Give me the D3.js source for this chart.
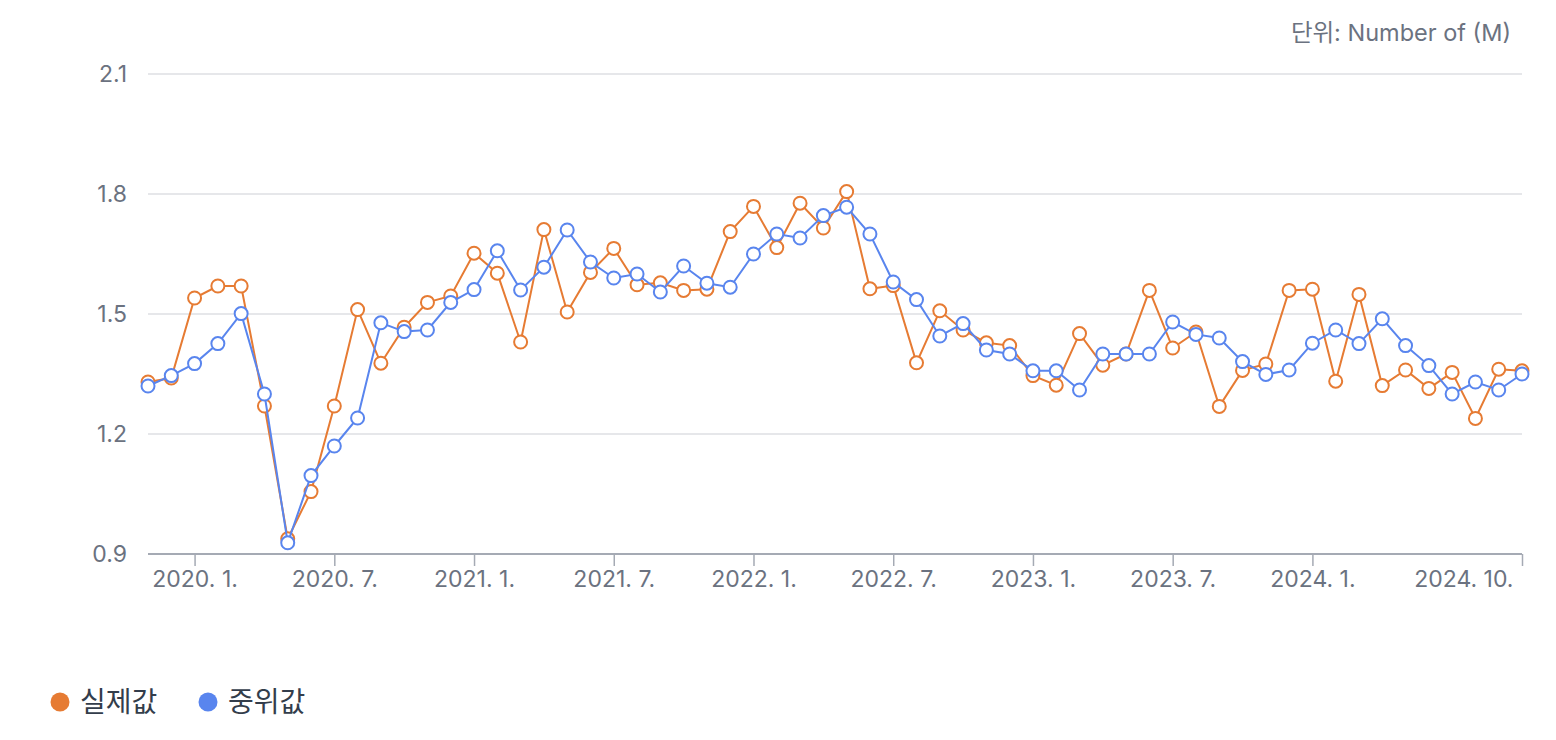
<!DOCTYPE html>
<html>
<head>
<meta charset="utf-8">
<script src="https://cdn.jsdelivr.net/npm/d3@7"></script>
<style>
  html, body { margin: 0; padding: 0; background: #ffffff; }
  svg { display: block; font-family: Inter, "Noto Sans CJK KR", "Noto Sans", sans-serif; }
</style>
</head>
<body>
<svg id="chart" width="1556" height="740"></svg>
<script>
const categories = [
  "2019. 11.","2019. 12.",
  "2020. 1.","2020. 2.","2020. 3.","2020. 4.","2020. 5.","2020. 6.","2020. 7.","2020. 8.","2020. 9.","2020. 10.","2020. 11.","2020. 12.",
  "2021. 1.","2021. 2.","2021. 3.","2021. 4.","2021. 5.","2021. 6.","2021. 7.","2021. 8.","2021. 9.","2021. 10.","2021. 11.","2021. 12.",
  "2022. 1.","2022. 2.","2022. 3.","2022. 4.","2022. 5.","2022. 6.","2022. 7.","2022. 8.","2022. 9.","2022. 10.","2022. 11.","2022. 12.",
  "2023. 1.","2023. 2.","2023. 3.","2023. 4.","2023. 5.","2023. 6.","2023. 7.","2023. 8.","2023. 9.","2023. 10.","2023. 11.","2023. 12.",
  "2024. 1.","2024. 2.","2024. 3.","2024. 4.","2024. 5.","2024. 6.","2024. 7.","2024. 8.","2024. 9.","2024. 10."
];

const actual = [
  1.33, 1.34,
  1.54, 1.57, 1.57, 1.27, 0.938, 1.056, 1.27, 1.511, 1.377, 1.467, 1.529, 1.545,
  1.652, 1.602, 1.43, 1.711, 1.505, 1.604, 1.664, 1.573, 1.578, 1.559, 1.562, 1.706,
  1.769, 1.666, 1.777, 1.715, 1.806, 1.563, 1.571, 1.378, 1.508, 1.46, 1.428, 1.421,
  1.346, 1.322, 1.451, 1.372, 1.40, 1.559, 1.415, 1.455, 1.269, 1.359, 1.375, 1.559,
  1.562, 1.332, 1.549, 1.321, 1.36, 1.314, 1.354, 1.239, 1.362, 1.358
];

const median = [
  1.32, 1.346,
  1.376, 1.426, 1.501, 1.30, 0.928, 1.096, 1.17, 1.24, 1.478, 1.456, 1.46, 1.529,
  1.561, 1.658, 1.56, 1.617, 1.71, 1.63, 1.59, 1.60, 1.555, 1.62, 1.577, 1.567,
  1.65, 1.70, 1.69, 1.746, 1.767, 1.70, 1.58, 1.536, 1.445, 1.476, 1.41, 1.40,
  1.358, 1.358, 1.31, 1.40, 1.40, 1.40, 1.48, 1.449, 1.44, 1.381, 1.349, 1.36,
  1.427, 1.46, 1.426, 1.488, 1.421, 1.371, 1.30, 1.33, 1.31, 1.35
];

const xTickLabels = ["2020. 1.","2020. 7.","2021. 1.","2021. 7.","2022. 1.","2022. 7.","2023. 1.","2023. 7.","2024. 1.","2024. 10."];
const yTicks = [0.9, 1.2, 1.5, 1.8, 2.1];
const seriesNames = ["실제값", "중위값"];
const unitLabel = "단위: Number of (M)";

const colors = ["#e67b33", "#5985ee"];

const svg = d3.select("#chart");
const plotLeft = 148, plotRight = 1522, plotTop = 74, plotBottom = 554;

const x = d3.scalePoint().domain(categories).range([plotLeft, plotRight]);
const y = d3.scaleLinear().domain([0.9, 2.1]).range([plotBottom, plotTop]);

// gridlines
svg.append("g")
  .selectAll("line")
  .data(yTicks.filter(t => t !== 0.9))
  .join("line")
  .attr("x1", plotLeft).attr("x2", plotRight)
  .attr("y1", d => y(d)).attr("y2", d => y(d))
  .attr("stroke", "#e6e7ea").attr("stroke-width", 2);

// y axis labels
const yAxis = d3.axisLeft(y).tickValues(yTicks).tickSize(0).tickPadding(0).tickFormat(d3.format(".1f"));
const gy = svg.append("g").attr("transform", `translate(${127},0)`).call(yAxis);
gy.select(".domain").remove();
gy.selectAll("text").attr("fill", "#6b7280").attr("font-size", 23).attr("font-family", "Inter, 'Noto Sans CJK KR', sans-serif");

// x axis
const xAxis = d3.axisBottom(x).tickValues(xTickLabels).tickSize(12).tickPadding(5);
const gx = svg.append("g").attr("transform", `translate(0,${plotBottom})`).call(xAxis);
gx.select(".domain").attr("stroke", "#a5aab4").attr("stroke-width", 2).attr("d", `M${plotLeft},0H${plotRight}`);
gx.selectAll(".tick line").attr("stroke", "#a5aab4").attr("stroke-width", 1.5);
gx.selectAll("text").attr("fill", "#6b7280").attr("font-size", 23).attr("font-family", "Inter, 'Noto Sans CJK KR', sans-serif");
gx.selectAll(".tick text").filter(d => d === xTickLabels[xTickLabels.length - 1])
  .attr("text-anchor", "end").attr("dx", -9);

// series
const seriesData = [actual, median];
seriesData.forEach((vals, si) => {
  const pts = vals.map((v, i) => ({ c: categories[i], v }));
  const g = svg.append("g");
  g.append("path")
    .datum(pts)
    .attr("fill", "none")
    .attr("stroke", colors[si])
    .attr("stroke-width", 2)
    .attr("d", d3.line().x(d => x(d.c)).y(d => y(d.v)));
  g.selectAll("circle")
    .data(pts)
    .join("circle")
    .attr("cx", d => x(d.c))
    .attr("cy", d => y(d.v))
    .attr("r", 6.5)
    .attr("fill", "#ffffff")
    .attr("stroke", colors[si])
    .attr("stroke-width", 2);
});

// unit label
svg.append("text")
  .attr("x", 1511).attr("y", 35)
  .attr("text-anchor", "end")
  .attr("dominant-baseline", "middle")
  .attr("fill", "#6b7280")
  .attr("font-size", 23.5)
  .text(unitLabel);

// legend
const legendX = [60, 208];
seriesNames.forEach((name, i) => {
  const g = svg.append("g").attr("transform", `translate(${legendX[i]},702)`);
  g.append("circle").attr("r", 9.5).attr("fill", colors[i]);
  g.append("text")
    .attr("x", 20).attr("y", 0)
    .attr("dominant-baseline", "central")
    .attr("fill", "#333d4b")
    .attr("font-size", 28)
    .text(name);
});
</script>
</body>
</html>
